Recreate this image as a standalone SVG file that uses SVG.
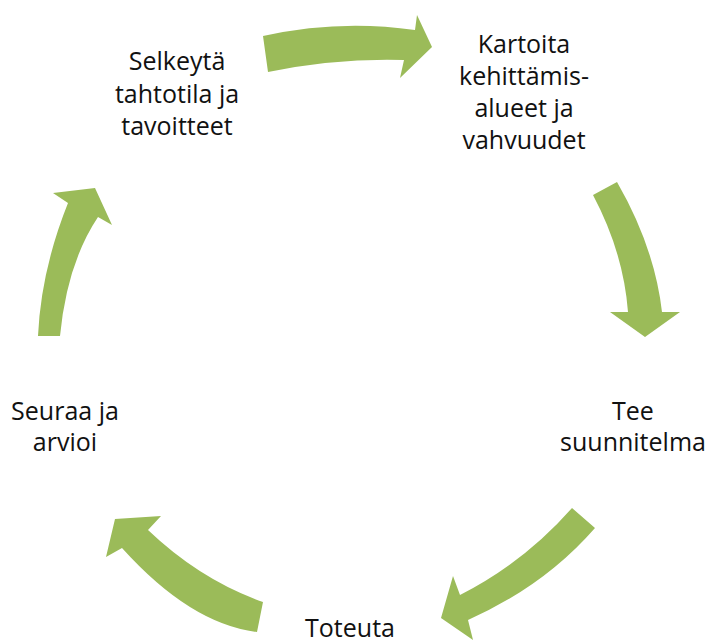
<svg xmlns="http://www.w3.org/2000/svg" width="710" height="643" viewBox="0 0 710 643">
<style>
.lbl{font-family:"Open Sans","Liberation Sans",sans-serif;font-size:25px;fill:#111;text-anchor:middle}
.arr{fill:#9BBB59;stroke:none}
</style>
<rect x="0" y="0" width="710" height="643" fill="#fff"/>
<g id="connectors">
<path class="arr" d="M263,36 Q339,19 415,30 L417,15 L432,47 L400,78 L404,60 Q336,58 268,72 Z"/>
<path class="arr" d="M617,182 Q654.5,247 662,312 L680,312 L645,337 L610,312 L628,312 Q623.5,252.5 593,195 Z"/>
<path class="arr" d="M572,508 Q524,562.5 460,595 L453,576 L441,618 L473,640 L468,620 Q544.5,586 595,528 Z"/>
<path class="arr" d="M263,602 Q200.5,580 148,530 L161,516 L115,519 L106,557 L122,548 Q190.5,624 257,632 Z"/>
<path class="arr" d="M38,336 Q41,270.5 68,203 L53,193 L95,188 L112,225 L98,217 Q67,263.5 60,336 Z"/>
</g>
<g id="node-selkeyta">
<text class="lbl" x="177" y="70">Selkeytä</text>
<text class="lbl" x="177" y="102.5">tahtotila ja</text>
<text class="lbl" x="177" y="135">tavoitteet</text>
</g>
<g id="node-kartoita">
<text class="lbl" x="524" y="53">Kartoita</text>
<text class="lbl" x="524" y="85">kehittämis-</text>
<text class="lbl" x="524" y="117">alueet ja</text>
<text class="lbl" x="524" y="149">vahvuudet</text>
</g>
<g id="node-tee">
<text class="lbl" x="633" y="420">Tee</text>
<text class="lbl" x="633" y="451">suunnitelma</text>
</g>
<g id="node-toteuta">
<text class="lbl" x="350" y="637">Toteuta</text>
</g>
<g id="node-seuraa">
<text class="lbl" x="65" y="420">Seuraa ja</text>
<text class="lbl" x="65" y="451">arvioi</text>
</g>
</svg>
